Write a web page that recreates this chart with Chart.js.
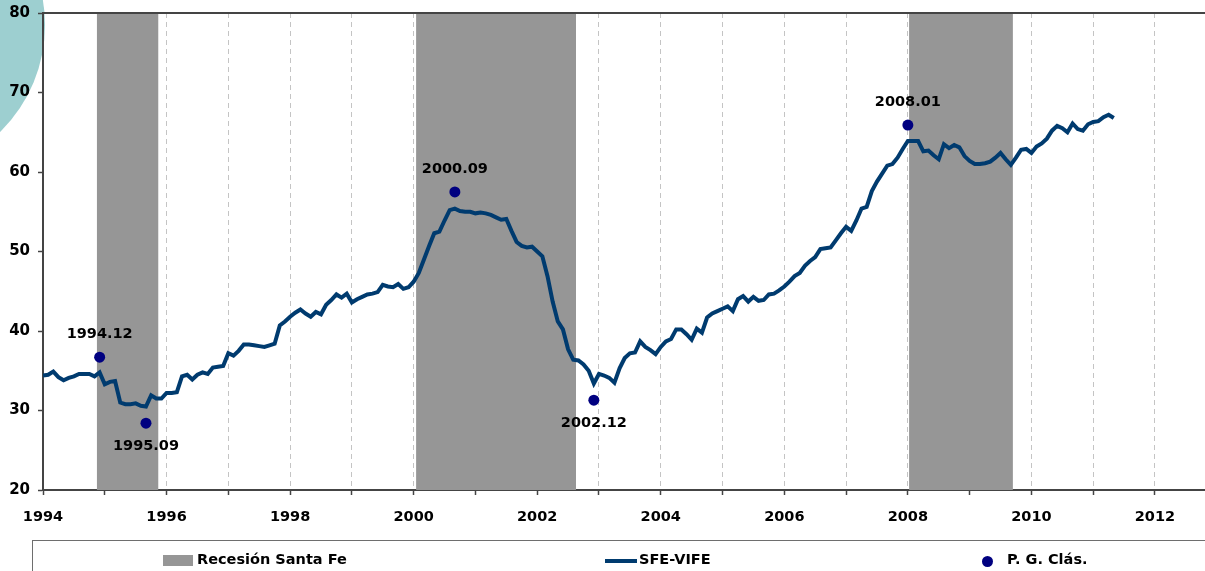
<!DOCTYPE html>
<html>
<head>
<meta charset="utf-8">
<script src="https://cdn.jsdelivr.net/npm/chart.js@4.4.0/dist/chart.umd.min.js"></script>
<style>
html, body { margin: 0; padding: 0; background: #fff; overflow: hidden; }
#wrap { position: relative; width: 1205px; height: 571px; }
#chart { position: absolute; left: 0; top: 0; }
.leg { position: absolute; left: 32px; top: 540px; width: 1200px; height: 60px; border: 1.5px solid #6e6e6e; box-sizing: border-box; font: bold 14.5px "DejaVu Sans", sans-serif; color: #000; }
.leg span { position: absolute; white-space: nowrap; }
</style>
</head>
<body>
<div id="wrap">
  <canvas id="chart" width="1205" height="571"></canvas>
  <div class="leg">
    <span style="left:130px;top:14px;width:30px;height:11px;background:#969696"></span>
    <span style="left:164px;top:10px">Recesión Santa Fe</span>
    <span style="left:572px;top:18px;width:32px;height:4px;background:#003B6F"></span>
    <span style="left:606px;top:10px">SFE-VIFE</span>
    <span style="left:949px;top:15px;width:11px;height:11px;border-radius:50%;background:#000080"></span>
    <span style="left:974px;top:10px">P. G. Clás.</span>
  </div>
</div>
<script>
"use strict";
// SFE-VIFE, monthly, starting January 1994
var startYear = 1994;
var vifeValues = [
    34.4, 34.5, 34.9, 34.2, 33.8, 34.1, 34.3, 34.6, 34.6, 34.6, 34.3, 34.8,
    33.3, 33.6, 33.7, 31.0, 30.8, 30.8, 30.9, 30.6, 30.5, 31.9, 31.5, 31.5,
    32.2, 32.2, 32.3, 34.3, 34.5, 33.9, 34.5, 34.8, 34.6, 35.4, 35.5, 35.6,
    37.2, 36.9, 37.5, 38.3, 38.3, 38.2, 38.1, 38.0, 38.2, 38.4, 40.7, 41.2,
    41.8, 42.3, 42.7, 42.2, 41.8, 42.4, 42.1, 43.3, 43.9, 44.6, 44.2, 44.7,
    43.6, 44.0, 44.3, 44.6, 44.7, 44.9, 45.8, 45.6, 45.5, 45.9, 45.3, 45.5,
    46.2, 47.3, 49.0, 50.7, 52.3, 52.5, 53.9, 55.2, 55.4, 55.1, 55.0, 55.0,
    54.8, 54.9, 54.8, 54.6, 54.3, 54.0, 54.1, 52.6, 51.2, 50.7, 50.5, 50.6,
    50.0, 49.4, 46.9, 43.7, 41.2, 40.2, 37.7, 36.4, 36.3, 35.8, 35.0, 33.4,
    34.6, 34.4, 34.1, 33.5, 35.3, 36.6, 37.2, 37.3, 38.7, 38.0, 37.6, 37.1,
    38.0, 38.7, 39.0, 40.2, 40.2, 39.6, 38.9, 40.3, 39.8, 41.7, 42.2, 42.5,
    42.8, 43.1, 42.5, 44.0, 44.4, 43.7, 44.3, 43.8, 43.9, 44.6, 44.7, 45.1,
    45.6, 46.2, 46.9, 47.3, 48.2, 48.8, 49.3, 50.3, 50.4, 50.5, 51.4, 52.3,
    53.1, 52.6, 53.9, 55.4, 55.6, 57.6, 58.8, 59.8, 60.8, 61.0, 61.8, 62.9,
    63.9, 63.9, 63.9, 62.6, 62.7, 62.1, 61.6, 63.5, 63.0, 63.4, 63.1, 62.0,
    61.4, 61.0, 61.0, 61.1, 61.3, 61.8, 62.4, 61.6, 60.9, 61.8, 62.8, 62.9,
    62.4, 63.2, 63.6, 64.2, 65.2, 65.8, 65.5, 65.0, 66.1, 65.4, 65.2, 66.0,
    66.3, 66.4, 66.9, 67.2, 66.8
];
// Recesión Santa Fe (decimal years)
var recStart = [1994.87, 2000.04, 2008.02];
var recEnd = [1995.87, 2002.63, 2009.70];
var recTop = 80;
// Puntos de giro clásicos
var turnX = [1994.917, 1995.667, 2000.667, 2002.917, 2008.0];
var turnY = [36.7, 28.4, 57.5, 31.3, 65.9];
var turnLabels = ['1994.12', '1995.09', '2000.09', '2002.12', '2008.01'];
var turnAbove = [true, false, true, false, true];
var xMin = 1994, xMax = 2012.81;
var yMin = 20, yMax = 80, yStep = 10;

var lineData = vifeValues.map(function (v, i) { return { x: startYear + i / 12, y: v }; });
var recData = [];
recStart.forEach(function (s, i) {
    recData.push({ x: s, y: recTop }, { x: recEnd[i], y: recTop }, { x: recEnd[i], y: null });
});
var turnData = turnX.map(function (x, i) { return { x: x, y: turnY[i] }; });

var decor = {
    id: 'decor',
    beforeDraw: function (chart) {
        var c = chart.ctx;
        c.save();
        c.fillStyle = '#9dcfd0';
        c.beginPath();
        c.arc(-105, 25, 150, 0, Math.PI * 2);
        c.fill();
        c.restore();
    },
    afterDatasetsDraw: function (chart) {
        var c = chart.ctx, meta = chart.getDatasetMeta(0);
        c.save();
        c.font = 'bold 14.5px "DejaVu Sans", sans-serif';
        c.fillStyle = '#000';
        c.textAlign = 'center';
        c.textBaseline = 'middle';
        meta.data.forEach(function (pt, i) {
            c.fillText(turnLabels[i], pt.x, pt.y + (turnAbove[i] ? -23 : 23));
        });
        c.restore();
    },
    afterDraw: function (chart) {
        var c = chart.ctx, a = chart.chartArea;
        c.save();
        c.strokeStyle = '#444';
        c.lineWidth = 2;
        c.beginPath();
        c.moveTo(a.left, a.top);
        c.lineTo(a.right, a.top);
        c.stroke();
        c.restore();
    }
};

new Chart(document.getElementById('chart'), {
    type: 'line',
    data: {
        datasets: [
            { label: 'P. G. Clás.', data: turnData, showLine: false, pointRadius: 5.5, pointBackgroundColor: '#000080', pointBorderWidth: 0, order: 1 },
            { label: 'SFE-VIFE', data: lineData, borderColor: '#003B6F', borderWidth: 4, pointRadius: 0, tension: 0, fill: false, order: 2 },
            { label: 'Recesión Santa Fe', data: recData, borderWidth: 0, borderColor: 'rgba(0,0,0,0)', backgroundColor: '#969696', pointRadius: 0, fill: 'start', spanGaps: false, order: 3 }
        ]
    },
    options: {
        responsive: false,
        devicePixelRatio: 1,
        animation: false,
        layout: { autoPadding: false, padding: { top: 13, right: 0, left: 0, bottom: 0 } },
        plugins: { legend: { display: false }, tooltip: { enabled: false } },
        scales: {
            x: {
                type: 'linear', min: xMin, max: xMax,
                afterFit: function (s) { s.height = 81; s.paddingLeft = 0; s.paddingRight = 0; },
                border: { color: '#444', width: 2, dash: [5, 4] },
                grid: {
                    color: function (ctx) { return ctx.tick && ctx.tick.value === xMin ? 'rgba(0,0,0,0)' : '#c4c4c4'; },
                    lineWidth: 1, tickLength: 5, tickColor: '#444', tickWidth: 1.5, tickBorderDash: []
                },
                ticks: {
                    stepSize: 1, autoSkip: false, maxRotation: 0, includeBounds: false, padding: 14,
                    color: '#000', font: { family: 'DejaVu Sans', weight: 'bold', size: 14.5 },
                    callback: function (v) { return Math.round(v) % 2 === 0 ? String(Math.round(v)) : ''; }
                }
            },
            y: {
                min: yMin, max: yMax,
                afterFit: function (s) { s.width = 43; s.paddingTop = 0; s.paddingBottom = 0; },
                border: { color: '#444', width: 2 },
                grid: { drawOnChartArea: false, tickLength: 5, tickColor: '#444', tickWidth: 1.5 },
                ticks: {
                    stepSize: yStep, padding: 8, color: '#000',
                    font: { family: 'DejaVu Sans', weight: 'bold', size: 15 }
                }
            }
        }
    },
    plugins: [decor]
});
</script>
</body>
</html>
